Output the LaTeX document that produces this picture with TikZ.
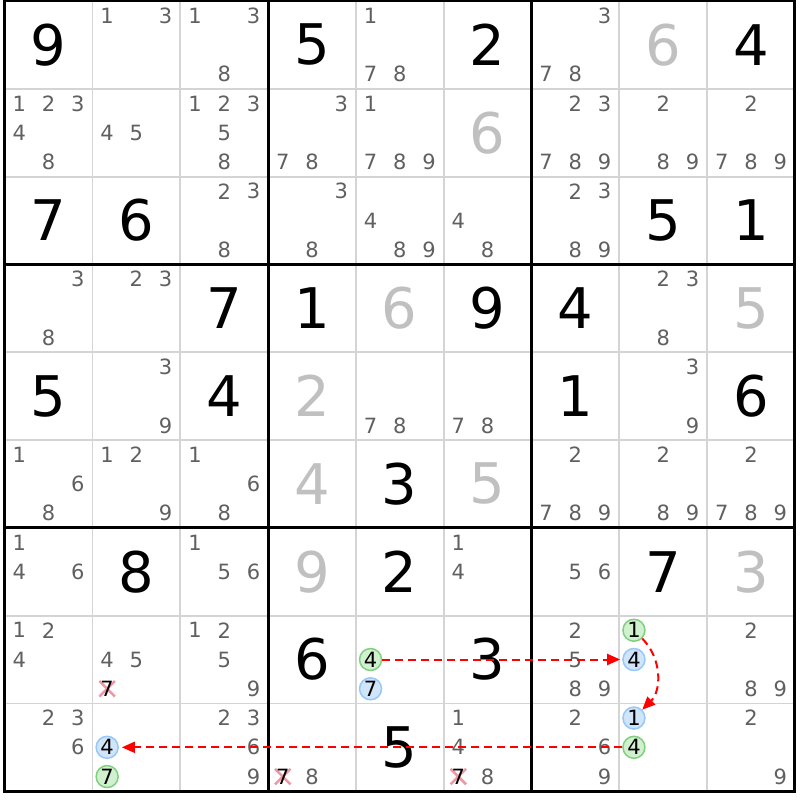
\documentclass[tikz,border=0pt]{standalone}
\usepackage{fontspec}
\newfontfamily\digfont{DejaVu Sans}
\usetikzlibrary{arrows.meta,shapes.misc}
\definecolor{candgray}{RGB}{96,96,96}
\definecolor{solvgray}{RGB}{192,192,192}
\definecolor{thingray}{RGB}{212,212,212}
\definecolor{grfill}{RGB}{208,240,208}
\definecolor{grline}{RGB}{128,208,128}
\definecolor{blfill}{RGB}{208,228,250}
\definecolor{blline}{RGB}{150,200,250}
\definecolor{xred}{RGB}{240,150,165}
\definecolor{linkred}{RGB}{255,0,0}
\tikzset{
  bigdig/.style={inner sep=0pt, font=\digfont\fontsize{56}{56}\selectfont},
  givendig/.style={bigdig, text=black},
  solveddig/.style={bigdig, text=solvgray},
  canddig/.style={inner sep=0pt, font=\digfont\fontsize{21}{21}\selectfont, text=candgray},
  crossdig/.style={inner sep=0pt, font=\digfont\fontsize{21}{21}\selectfont, text=black},
  xmark/.style={draw=xred, cross out, line width=2.5pt, minimum size=13pt, inner sep=0pt},
  circdig/.style={circle, line width=1.5pt, minimum size=22pt, inner sep=0pt, text=black, font=\digfont\fontsize{21}{21}\selectfont},
  greenc/.style={circdig, draw=grline, fill=grfill},
  bluec/.style={circdig, draw=blline, fill=blfill},
  thinline/.style={draw=thingray, line width=1.8pt},
  thickline/.style={draw=black, line width=3pt, line cap=rect},
  linkarrow/.style={draw=linkred, line width=2pt, dash pattern=on 8pt off 5pt, -{Triangle[length=13pt,width=11pt,fill=linkred]}}
}
\newcommand\setpos[3]{\pgfmathsetmacro\cx{4.7+#2*87.8+mod(#3-1,3)*29.267+14.633}\pgfmathsetmacro\cy{1+#1*87.8+floor((#3-1)/3)*29.267+14.633}}
\newcommand\putgiven[3]{\pgfmathsetmacro\cx{4.7+(#2+0.5)*87.8}\pgfmathsetmacro\cy{1+(#1+0.5)*87.8}\node[givendig] (n#1#2) at (\cx,\cy) {#3};}
\newcommand\putsolved[3]{\pgfmathsetmacro\cx{4.7+(#2+0.5)*87.8}\pgfmathsetmacro\cy{1+(#1+0.5)*87.8}\node[solveddig] (n#1#2) at (\cx,\cy) {#3};}
\newcommand\putcands[3]{\foreach \dd in {#3}{\setpos{#1}{#2}{\dd}\node[canddig] (c#1#2\dd) at (\cx,\cy) {\dd};}}
\newcommand\putcirc[4]{\setpos{#1}{#2}{#3}\node[#4] (c#1#2#3) at (\cx,\cy) {#3};}
\newcommand\putcrossed[3]{\setpos{#1}{#2}{#3}\node[xmark] (x#1#2#3) at (\cx,\cy) {};\node[crossdig] (c#1#2#3) at (\cx,\cy) {#3};}
\begin{document}
\begin{tikzpicture}[x=1pt,y=-1pt]
\clip (0,0) rectangle (800,800);
\fill[white] (0,0) rectangle (800,800);
% grid
\foreach \i in {1,2,4,5,7,8} {
  \draw[thinline] ({4.7+\i*87.8},1) -- ({4.7+\i*87.8},791.2);
  \draw[thinline] (4.7,{1+\i*87.8}) -- (794.9,{1+\i*87.8});
}
\foreach \i in {3,6} {
  \draw[thickline] ({4.7+\i*87.8},1) -- ({4.7+\i*87.8},791.2);
  \draw[thickline] (4.7,{1+\i*87.8}) -- (794.9,{1+\i*87.8});
}
\draw[thickline] (4.7,1) rectangle (794.9,791.2);
% row 0
\putgiven{0}{0}{9}
\putcands{0}{1}{1,3}
\putcands{0}{2}{1,3,8}
\putgiven{0}{3}{5}
\putcands{0}{4}{1,7,8}
\putgiven{0}{5}{2}
\putcands{0}{6}{3,7,8}
\putsolved{0}{7}{6}
\putgiven{0}{8}{4}
% row 1
\putcands{1}{0}{1,2,3,4,8}
\putcands{1}{1}{4,5}
\putcands{1}{2}{1,2,3,5,8}
\putcands{1}{3}{3,7,8}
\putcands{1}{4}{1,7,8,9}
\putsolved{1}{5}{6}
\putcands{1}{6}{2,3,7,8,9}
\putcands{1}{7}{2,8,9}
\putcands{1}{8}{2,7,8,9}
% row 2
\putgiven{2}{0}{7}
\putgiven{2}{1}{6}
\putcands{2}{2}{2,3,8}
\putcands{2}{3}{3,8}
\putcands{2}{4}{4,8,9}
\putcands{2}{5}{4,8}
\putcands{2}{6}{2,3,8,9}
\putgiven{2}{7}{5}
\putgiven{2}{8}{1}
% row 3
\putcands{3}{0}{3,8}
\putcands{3}{1}{2,3}
\putgiven{3}{2}{7}
\putgiven{3}{3}{1}
\putsolved{3}{4}{6}
\putgiven{3}{5}{9}
\putgiven{3}{6}{4}
\putcands{3}{7}{2,3,8}
\putsolved{3}{8}{5}
% row 4
\putgiven{4}{0}{5}
\putcands{4}{1}{3,9}
\putgiven{4}{2}{4}
\putsolved{4}{3}{2}
\putcands{4}{4}{7,8}
\putcands{4}{5}{7,8}
\putgiven{4}{6}{1}
\putcands{4}{7}{3,9}
\putgiven{4}{8}{6}
% row 5
\putcands{5}{0}{1,6,8}
\putcands{5}{1}{1,2,9}
\putcands{5}{2}{1,6,8}
\putsolved{5}{3}{4}
\putgiven{5}{4}{3}
\putsolved{5}{5}{5}
\putcands{5}{6}{2,7,8,9}
\putcands{5}{7}{2,8,9}
\putcands{5}{8}{2,7,8,9}
% row 6
\putcands{6}{0}{1,4,6}
\putgiven{6}{1}{8}
\putcands{6}{2}{1,5,6}
\putsolved{6}{3}{9}
\putgiven{6}{4}{2}
\putcands{6}{5}{1,4}
\putcands{6}{6}{5,6}
\putgiven{6}{7}{7}
\putsolved{6}{8}{3}
% row 7
\putcands{7}{0}{1,2,4}
\putcands{7}{1}{4,5}
\putcrossed{7}{1}{7}
\putcands{7}{2}{1,2,5,9}
\putgiven{7}{3}{6}
\putcirc{7}{4}{4}{greenc}
\putcirc{7}{4}{7}{bluec}
\putgiven{7}{5}{3}
\putcands{7}{6}{2,5,8,9}
\putcirc{7}{7}{1}{greenc}
\putcirc{7}{7}{4}{bluec}
\putcands{7}{8}{2,8,9}
% row 8
\putcands{8}{0}{2,3,6}
\putcirc{8}{1}{4}{bluec}
\putcirc{8}{1}{7}{greenc}
\putcands{8}{2}{2,3,6,9}
\putcrossed{8}{3}{7}
\putcands{8}{3}{8}
\putgiven{8}{4}{5}
\putcands{8}{5}{1,4,8}
\putcrossed{8}{5}{7}
\putcands{8}{6}{2,6,9}
\putcirc{8}{7}{1}{bluec}
\putcirc{8}{7}{4}{greenc}
\putcands{8}{8}{2,9}
% links
\draw[linkarrow, shorten >=2pt] (c744) -- (c774);
\draw[linkarrow] (c771) to[bend left=45] (c871);
\draw[linkarrow, shorten >=3pt] (c874) -- (c814);
\end{tikzpicture}
\end{document}
